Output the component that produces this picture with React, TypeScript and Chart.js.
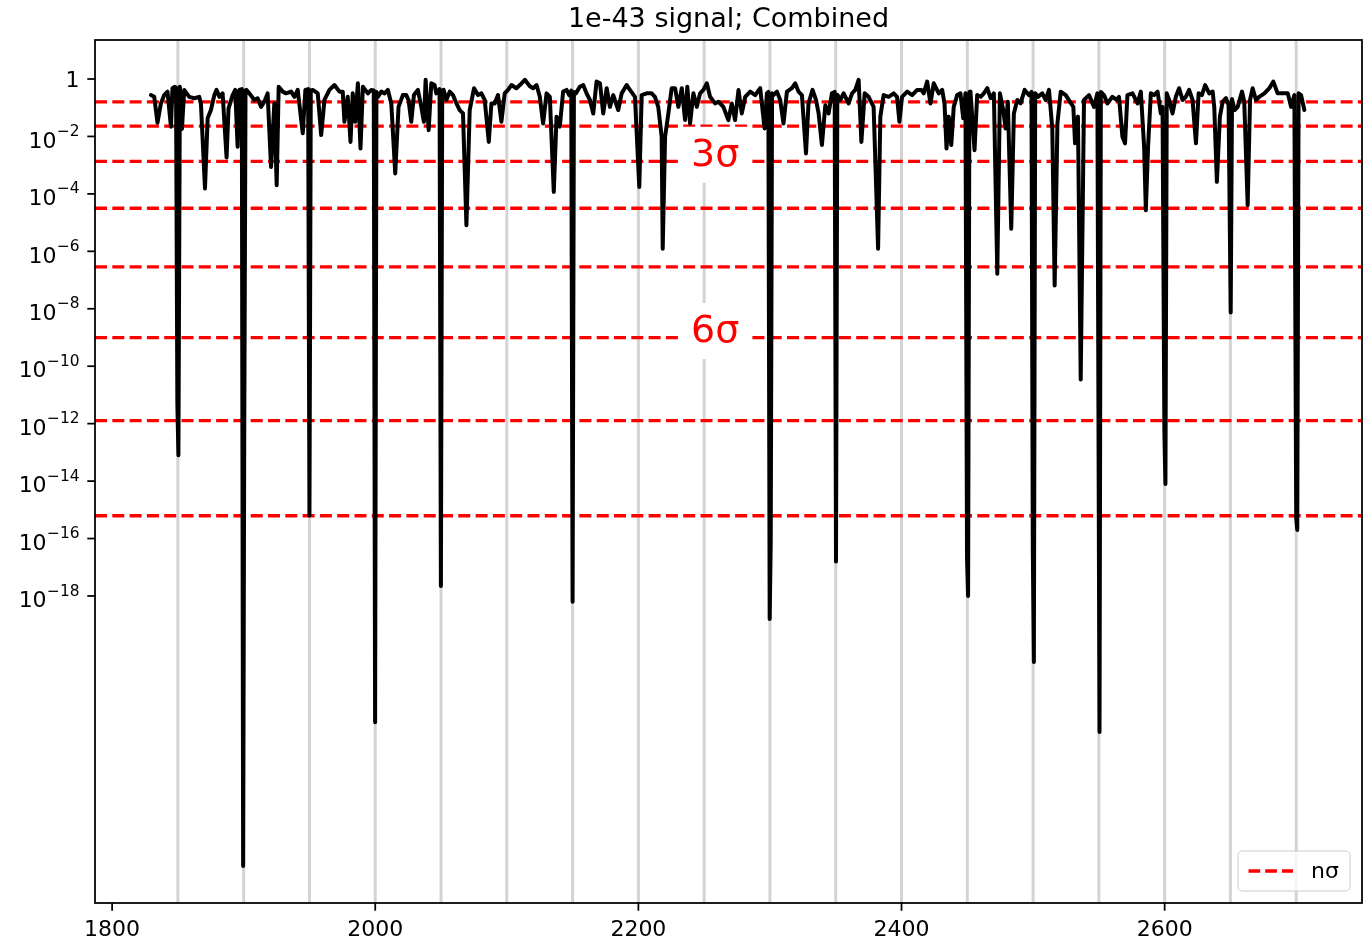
import { useEffect, useRef } from "react";
import { Chart, registerables } from "chart.js";

Chart.register(...registerables);

// Combined p-value scan: position vs log10(p)
const wavelength = [
  1829.5, 1832.0, 1834.5, 1837.1, 1839.6, 1842.1, 1844.7, 1845.9, 1847.7, 1848.6, 1849.6, 1850.4,
  1851.5, 1853.1, 1854.8, 1858.6, 1862.4, 1866.2, 1867.5, 1870.6, 1872.6, 1875.1,
  1877.7, 1879.4, 1881.5, 1884.0, 1887.0, 1888.5, 1891.6, 1893.6, 1895.4, 1896.7, 1898.6, 1899.6, 1900.4, 1901.4,
  1902.0, 1904.3, 1908.1, 1910.6, 1913.2, 1915.7, 1918.2, 1920.8, 1923.3, 1925.1,
  1926.6, 1929.7, 1932.2, 1936.1, 1938.6, 1941.1, 1944.9, 1946.9, 1949.0, 1950.0, 1951.0,
  1952.5, 1956.3, 1958.9, 1961.4, 1965.2, 1969.0, 1972.8, 1975.3, 1976.6, 1979.1,
  1981.2, 1982.9, 1984.8, 1986.8, 1988.8, 1990.6, 1994.4, 1997.0, 1998.9, 1999.9, 2000.9,
  2002.0, 2004.6, 2007.1, 2009.6, 2012.2, 2015.2, 2017.7, 2021.0, 2023.6, 2025.3,
  2027.4, 2029.4, 2032.4, 2035.0, 2037.0, 2038.3, 2040.6, 2042.6, 2045.1, 2046.4, 2048.9, 2049.9, 2050.9,
  2052.0, 2054.1, 2056.6, 2059.1, 2061.7, 2064.2, 2066.7, 2069.3, 2071.8, 2075.1,
  2078.1, 2080.7, 2083.2, 2086.3, 2088.3, 2090.8, 2093.3, 2095.9, 2098.4, 2100.9,
  2103.5, 2107.3, 2109.9, 2113.7, 2117.5, 2120.0, 2122.6, 2125.1, 2127.6, 2130.2,
  2132.7, 2135.7, 2137.8, 2140.3, 2142.8, 2145.4, 2147.4, 2149.0, 2150.0, 2151.0,
  2152.5, 2155.5, 2158.1, 2160.6, 2163.2, 2165.7, 2168.2, 2170.8, 2173.3, 2175.9,
  2178.4, 2180.9, 2184.7, 2187.3, 2191.1, 2193.6, 2197.4, 2200.7, 2202.5, 2206.3,
  2210.1, 2212.6, 2215.1, 2217.7, 2218.5, 2220.3, 2222.8, 2225.3, 2227.9, 2230.4,
  2233.0, 2235.5, 2237.2, 2239.3, 2241.8, 2244.4, 2246.9, 2249.4, 2252.0, 2254.5,
  2258.3, 2260.8, 2264.6, 2268.4, 2271.0, 2273.5, 2276.1, 2278.6, 2281.2, 2285.0,
  2288.8, 2292.6, 2295.9, 2297.7, 2298.8, 2299.8, 2300.6, 2301.6,
  2302.7, 2305.3, 2307.8, 2310.3, 2312.9, 2316.7, 2319.2, 2321.7, 2324.3, 2327.4,
  2329.3, 2332.4, 2335.0, 2337.0, 2339.5, 2342.1, 2344.6, 2347.1, 2349.2, 2350.2, 2351.2,
  2353.5, 2356.0, 2359.8, 2362.4, 2364.9, 2367.4, 2369.5, 2372.0, 2375.0, 2378.8,
  2382.2, 2383.9, 2386.4, 2390.2, 2394.1, 2396.6, 2398.4, 2400.4, 2404.3, 2408.1,
  2411.9, 2415.1, 2416.9, 2419.5, 2422.0, 2424.5, 2428.3, 2430.9, 2432.7, 2434.2,
  2435.9, 2437.8, 2439.7, 2442.3, 2444.8, 2446.9, 2448.6, 2449.8, 2450.6, 2451.6,
  2452.4, 2455.5, 2457.5, 2460.1, 2462.6, 2465.2, 2467.7, 2470.2, 2472.8, 2474.8,
  2477.3, 2479.1, 2480.8, 2483.4, 2485.4, 2488.0, 2490.5, 2493.6, 2496.8, 2498.8, 2499.8, 2500.6, 2501.6,
  2503.7, 2507.0, 2509.6, 2512.1, 2514.6, 2516.4, 2518.5, 2521.0, 2524.8, 2528.0,
  2530.6, 2531.9, 2534.1, 2536.2, 2538.7, 2542.5, 2546.3, 2548.9, 2550.5, 2551.5,
  2553.9, 2556.5, 2560.3, 2563.6, 2565.3, 2567.9, 2569.9, 2571.7, 2575.6, 2579.4,
  2581.9, 2584.4, 2585.7, 2587.4, 2589.5, 2592.0, 2594.6, 2597.1, 2598.4, 2599.8, 2600.6, 2601.6,
  2603.4, 2606.0, 2608.5, 2611.0, 2613.6, 2616.1, 2618.6, 2621.2, 2623.8, 2625.8,
  2628.3, 2630.8, 2633.9, 2636.5, 2637.7, 2639.7, 2642.0, 2644.1, 2646.6, 2648.6, 2650.2, 2651.2,
  2653.2, 2655.5, 2658.8, 2660.5, 2663.1, 2664.9, 2666.9, 2669.4, 2671.9, 2675.8,
  2679.6, 2682.6, 2685.9, 2689.8, 2693.6, 2696.1, 2698.6, 2700.0, 2700.8, 2701.8, 2703.7, 2706.2,
];

const logPValue = [
  -0.56, -0.62, -1.52, -0.85, -0.56, -0.44, -1.66, -0.32, -0.27, -0.30, -11.3, -13.1,
  -0.27, -1.74, -0.38, -0.62, -0.67, -0.62, -0.85, -3.81, -1.37, -1.08,
  -0.56, -0.38, -0.62, -0.50, -2.73, -1.02, -0.56, -0.38, -2.36, -0.38, -0.35, -27.4, -12.8, -0.40,
  -0.38, -0.50, -0.73, -0.67, -0.97, -0.79, -0.50, -3.06, -0.85, -3.70,
  -0.27, -0.44, -0.50, -0.44, -0.62, -0.38, -1.89, -0.38, -0.35, -15.2, -0.40,
  -0.38, -0.50, -1.95, -0.73, -0.38, -0.21, -0.44, -0.44, -1.49, -0.62,
  -2.19, -0.50, -1.49, -0.15, -2.42, -0.27, -0.50, -0.38, -0.40, -22.4, -0.45,
  -0.62, -0.44, -0.50, -0.38, -0.85, -3.29, -0.97, -0.56, -0.56, -0.73,
  -1.49, -0.56, -0.38, -0.97, -1.49, -0.03, -1.78, -0.15, -0.21, -0.50, -0.35, -17.65, -0.40,
  -0.38, -0.73, -0.44, -0.56, -0.85, -1.08, -1.20, -5.09, -1.08, -0.32,
  -0.56, -0.50, -0.73, -2.19, -0.85, -0.85, -0.56, -1.49, -0.50, -0.38,
  -0.21, -0.32, -0.21, -0.03, -0.25, -0.32, -0.21, -0.62, -1.55, -0.50,
  -0.62, -3.93, -1.31, -1.66, -0.44, -0.38, -0.56, -0.40, -18.2, -0.45,
  -0.50, -0.27, -0.21, -0.50, -0.73, -1.20, -0.09, -0.15, -1.20, -0.32,
  -0.97, -0.56, -1.08, -0.50, -0.21, -0.38, -0.62, -3.76, -0.56, -0.50,
  -0.50, -0.62, -0.97, -2.01, -5.91, -2.01, -1.20, -0.32, -0.32, -0.97,
  -0.32, -1.43, -0.27, -1.55, -0.50, -0.97, -0.50, -0.38, -0.15, -0.62,
  -0.85, -0.79, -0.97, -1.43, -0.85, -1.43, -0.38, -1.20, -0.62, -0.44,
  -0.56, -0.32, -1.72, -0.50, -0.45, -18.8, -16.1, -0.50,
  -0.56, -0.44, -0.73, -1.55, -0.44, -0.32, -0.15, -0.44, -0.56, -2.59,
  -0.85, -0.38, -0.73, -1.20, -2.30, -0.91, -1.20, -0.50, -0.45, -16.8, -0.55,
  -0.73, -0.50, -0.85, -0.50, -0.38, -0.03, -2.19, -0.50, -0.62, -0.97,
  -5.91, -1.31, -0.56, -0.62, -0.50, -0.62, -1.49, -0.62, -0.44, -0.56,
  -0.38, -0.38, -0.50, -0.09, -0.85, -0.15, -0.50, -0.38, -0.85, -2.42,
  -1.31, -2.30, -0.97, -0.56, -0.50, -1.37, -0.50, -16.7, -18.0, -0.45,
  -0.44, -2.48, -0.56, -0.62, -0.50, -0.32, -0.67, -0.50, -6.78, -0.50,
  -1.08, -1.72, -0.79, -5.21, -1.20, -0.73, -0.85, -0.38, -0.56, -0.45, -16.4, -20.3, -0.50,
  -0.62, -0.50, -0.73, -0.38, -1.72, -7.19, -1.55, -0.44, -0.56, -0.79,
  -0.97, -2.24, -1.31, -10.46, -0.73, -0.56, -0.97, -0.50, -22.74, -0.45,
  -0.56, -0.85, -0.62, -0.73, -0.62, -2.01, -2.24, -0.56, -0.50, -0.85,
  -0.44, -2.36, -4.57, -2.36, -0.50, -0.56, -0.44, -1.20, -0.97, -12.3, -14.1, -0.50,
  -0.73, -1.20, -0.62, -0.32, -0.73, -0.62, -0.38, -0.73, -2.24, -0.50,
  -0.56, -0.21, -0.50, -0.44, -0.97, -3.58, -1.31, -0.79, -0.67, -0.91, -8.13, -0.70,
  -1.08, -0.97, -0.44, -0.79, -4.39, -0.73, -0.32, -0.73, -0.62, -0.50,
  -0.32, -0.09, -0.50, -0.50, -0.50, -0.97, -0.56, -15.3, -15.7, -0.50, -0.56, -1.08,
];

// one-sided Gaussian tail probabilities for 1..8 sigma
const sigmaLevels = [1, 2, 3, 4, 5, 6, 7, 8];
const sigmaPValues = [1.587e-1, 2.275e-2, 1.35e-3, 3.167e-5, 2.867e-7, 9.866e-10, 1.28e-12, 6.221e-16];
const labelledSigmas = [3, 6];
const sigmaLabelX = 2240;

// reference line positions
const markerLines = [
  1850, 1900, 1950, 2000, 2050, 2100, 2150, 2200, 2250,
  2300, 2350, 2400, 2450, 2500, 2550, 2600, 2650, 2700,
];

const xTicks = [1800, 2000, 2200, 2400, 2600];
const yTickExponents = [0, -2, -4, -6, -8, -10, -12, -14, -16, -18];

const xMin = 1787;
const xMax = 2750;
const yMinExp = -28.69;
const yMaxExp = 1.358;

const chartTitle = "1e-43 signal; Combined";
const legendLabel = "nσ";

const FONT = '"DejaVu Sans", "Liberation Sans", sans-serif';
const LINE_W = 4;
const DASH = [12, 5.3];

const decorations = {
  id: "decorations",
  beforeDatasetsDraw(chart: any) {
    const { ctx, chartArea: a, scales } = chart;
    const x = scales.x;
    const y = scales.y;
    ctx.save();
    ctx.beginPath();
    ctx.rect(a.left, a.top, a.right - a.left, a.bottom - a.top);
    ctx.clip();

    ctx.strokeStyle = "#d3d3d3";
    ctx.lineWidth = 3;
    for (const m of markerLines) {
      const px = x.getPixelForValue(m);
      ctx.beginPath();
      ctx.moveTo(px, a.top);
      ctx.lineTo(px, a.bottom);
      ctx.stroke();
    }

    ctx.strokeStyle = "#ff0000";
    ctx.lineWidth = 3.3;
    ctx.setLineDash(DASH);
    for (const p of sigmaPValues) {
      const py = y.getPixelForValue(p);
      ctx.beginPath();
      ctx.moveTo(a.left, py);
      ctx.lineTo(a.right, py);
      ctx.stroke();
    }
    ctx.restore();
  },
  afterDatasetsDraw(chart: any) {
    const { ctx, chartArea: a, scales } = chart;
    const x = scales.x;
    const y = scales.y;
    ctx.save();

    // sigma annotations on white boxes
    const fs = 38;
    ctx.font = `${fs}px ${FONT}`;
    for (const s of labelledSigmas) {
      const p = sigmaPValues[sigmaLevels.indexOf(s)];
      const cy = y.getPixelForValue(p * 2);
      const ox = x.getPixelForValue(sigmaLabelX);
      const txt = `${s}σ`;
      const w = ctx.measureText(txt).width;
      ctx.fillStyle = "#ffffff";
      ctx.fillRect(ox - 11, cy - 26, w + 22, 56);
      ctx.fillStyle = "#ff0000";
      ctx.textAlign = "left";
      ctx.textBaseline = "alphabetic";
      ctx.fillText(txt, ox, cy + 0.346 * fs);
    }

    // axes frame
    ctx.strokeStyle = "#000000";
    ctx.lineWidth = 1.76;
    ctx.strokeRect(a.left, a.top, a.right - a.left, a.bottom - a.top);

    // x ticks
    ctx.font = `22px ${FONT}`;
    ctx.fillStyle = "#000000";
    ctx.textAlign = "center";
    ctx.textBaseline = "alphabetic";
    for (const t of xTicks) {
      const px = x.getPixelForValue(t);
      ctx.beginPath();
      ctx.moveTo(px, a.bottom);
      ctx.lineTo(px, a.bottom + 7.7);
      ctx.stroke();
      ctx.fillText(String(t), px, a.bottom + 33);
    }

    // y ticks with power-of-ten labels
    const right = a.left - 15.4;
    for (const e of yTickExponents) {
      const py = y.getPixelForValue(Math.pow(10, e));
      ctx.beginPath();
      ctx.moveTo(a.left, py);
      ctx.lineTo(a.left - 7.7, py);
      ctx.stroke();
      ctx.textAlign = "right";
      if (e === 0) {
        ctx.font = `22px ${FONT}`;
        ctx.fillText("1", right, py + 8);
      } else {
        const exp = `\u2212${Math.abs(e)}`;
        ctx.font = `15.4px ${FONT}`;
        const ew = ctx.measureText(exp).width;
        const base = py + 11.2;
        ctx.fillText(exp, right, base - 11.6);
        ctx.font = `22px ${FONT}`;
        ctx.fillText("10", right - ew - 0.5, base);
      }
    }

    // title
    ctx.font = `27px ${FONT}`;
    ctx.textAlign = "center";
    ctx.fillText(chartTitle, (a.left + a.right) / 2, a.top - 13.2);

    // legend
    const lx = 1238;
    const ly = 851;
    const lw = 112;
    const lh = 40;
    ctx.beginPath();
    ctx.roundRect(lx, ly, lw, lh, 4.4);
    ctx.fillStyle = "rgba(255,255,255,0.8)";
    ctx.fill();
    ctx.strokeStyle = "#cccccc";
    ctx.lineWidth = 1;
    ctx.stroke();
    ctx.save();
    ctx.beginPath();
    ctx.rect(lx + 10, ly, 45, lh);
    ctx.clip();
    ctx.strokeStyle = "#ff0000";
    ctx.lineWidth = 3.3;
    ctx.setLineDash([11.7, 5]);
    ctx.beginPath();
    ctx.moveTo(lx + 10.5, ly + lh / 2);
    ctx.lineTo(lx + 55.5, ly + lh / 2);
    ctx.stroke();
    ctx.restore();
    ctx.fillStyle = "#000000";
    ctx.font = `22px ${FONT}`;
    ctx.textAlign = "left";
    ctx.fillText(legendLabel, lx + 73, ly + 27);

    ctx.restore();
  },
};

export default function App() {
  const canvasRef = useRef<HTMLCanvasElement | null>(null);

  useEffect(() => {
    document.body.style.margin = "0";
    const canvas = canvasRef.current;
    if (!canvas) return;
    const points = wavelength.map((w, i) => ({ x: w, y: Math.pow(10, logPValue[i]) }));
    const chart = new Chart(canvas, {
      type: "line",
      data: {
        datasets: [
          {
            data: points,
            borderColor: "#000000",
            borderWidth: LINE_W,
            borderJoinStyle: "round",
            borderCapStyle: "round",
            pointRadius: 0,
            tension: 0,
            fill: false,
          },
        ],
      },
      options: {
        responsive: false,
        animation: false,
        devicePixelRatio: 1,
        elements: { line: { borderWidth: LINE_W } },
        layout: { padding: { left: 95, right: 1, top: 40, bottom: 38 } },
        plugins: {
          legend: { display: false },
          title: { display: false },
          tooltip: { enabled: false },
        },
        scales: {
          x: { type: "linear", min: xMin, max: xMax, display: false },
          y: {
            type: "logarithmic",
            min: Math.pow(10, yMinExp),
            max: Math.pow(10, yMaxExp),
            display: false,
          },
        },
      },
      plugins: [decorations],
    });
    return () => chart.destroy();
  }, []);

  return (
    <div style={{ width: 1363, height: 941, background: "#ffffff" }}>
      <canvas ref={canvasRef} width={1363} height={941} style={{ display: "block" }} />
    </div>
  );
}
